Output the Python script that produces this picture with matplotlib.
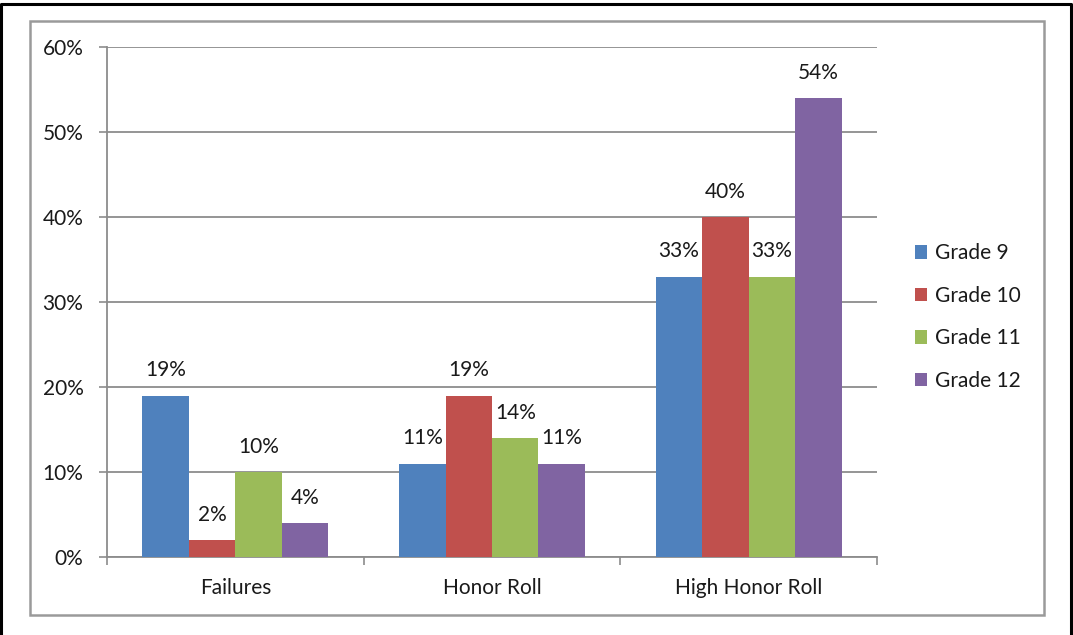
import matplotlib.pyplot as plt
from matplotlib.lines import Line2D
from matplotlib.patches import Rectangle
import numpy as np

categories = ["Failures", "Honor Roll", "High Honor Roll"]
series = ["Grade 9", "Grade 10", "Grade 11", "Grade 12"]
grade9 = [19, 11, 33]
grade10 = [2, 19, 40]
grade11 = [10, 14, 33]
grade12 = [4, 11, 54]
colors = ["#4F81BD", "#C0504D", "#9BBB59", "#8064A2"]
yticks = [0, 10, 20, 30, 40, 50, 60]

plt.rcParams['font.family'] = ['Lato', 'DejaVu Sans']
FS = 15
TXT = '#1a1a1a'
GRAY = '#8c8c8c'

fig = plt.figure(figsize=(10.73, 6.35), dpi=100)
W, H = 1073, 635

def px(x0, y0, x1, y1):
    return [x0 / W, 1 - y1 / H, (x1 - x0) / W, (y1 - y0) / H]

ax = fig.add_axes(px(107, 47, 877, 557))

x = np.arange(len(categories))
bw = 0.181
values = [grade9, grade10, grade11, grade12]
for i, (name, vals) in enumerate(zip(series, values)):
    bars = ax.bar(x + (i - 1.5) * bw, vals, bw, color=colors[i], label=name, zorder=3)
    for b, v in zip(bars, vals):
        ax.annotate(f"{v}%", (b.get_x() + b.get_width() / 2, v), xytext=(0, 11),
                    textcoords='offset points', ha='center', va='bottom',
                    fontsize=FS, color=TXT)

ax.set_xlim(-0.5, 2.5)
ax.set_ylim(0, 60)
ax.set_yticks(yticks)
ax.set_yticklabels([f"{t}%" for t in yticks])
ax.set_xticks(x)
ax.set_xticklabels(categories)
ax.set_xticks([-0.5, 0.5, 1.5, 2.5], minor=True)
ax.tick_params(axis='x', which='major', length=0, pad=15, labelsize=FS, labelcolor=TXT)
ax.tick_params(axis='x', which='minor', length=6, width=1.2, color=GRAY, direction='out')
ax.tick_params(axis='y', length=6, width=1.2, color=GRAY, pad=11, labelsize=FS, labelcolor=TXT)
ax.grid(axis='y', color=GRAY, linewidth=1.3, zorder=0)
ax.set_axisbelow(True)
for s in ['top', 'right']:
    ax.spines[s].set_visible(False)
for s in ['left', 'bottom']:
    ax.spines[s].set_color(GRAY)
    ax.spines[s].set_linewidth(1.3)

leg = fig.legend(loc='center left', bbox_to_anchor=(896 / W, 1 - 317 / H), frameon=False,
                 fontsize=FS, handlelength=0.6, handleheight=0.6, handletextpad=0.35,
                 labelspacing=1.08, labelcolor=TXT)

# chart border lines
fig.patches.append(Rectangle((30 / W, 1 - 615 / H), (1044 - 30) / W, (615 - 21) / H,
                             transform=fig.transFigure, fill=False, edgecolor='#9a9a9a',
                             linewidth=1.8))
fig.lines.append(Line2D([1 / W, 1 / W, 1071 / W, 1071 / W], [0, 1 - 4 / H, 1 - 4 / H, 0],
                        transform=fig.transFigure, color='black', linewidth=2.2))

fig.savefig("out.png", dpi=100)
